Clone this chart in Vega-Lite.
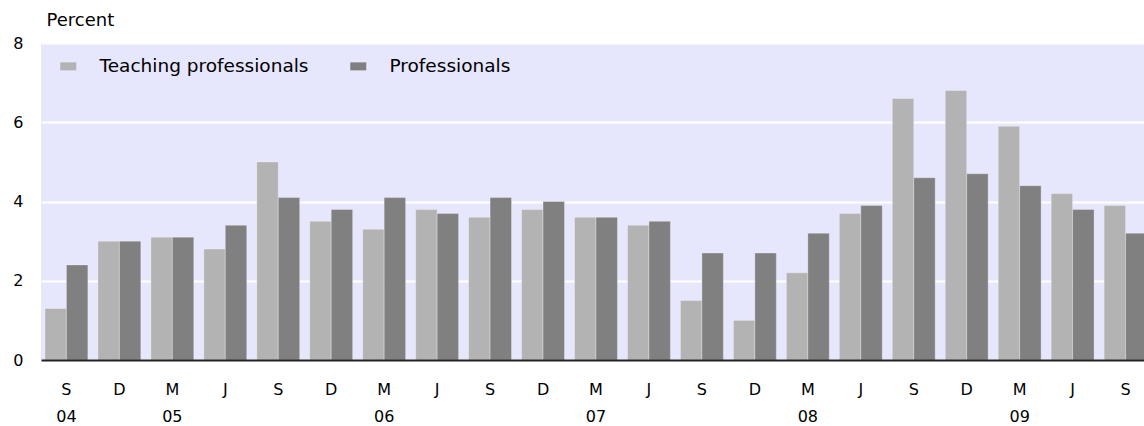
{
  "$schema": "https://vega.github.io/schema/vega-lite/v6.json",
  "width": 1103,
  "height": 317,
  "autosize": {"type": "none"},
  "padding": {"left": 41, "top": 43, "right": 0, "bottom": 66},
  "background": "#ffffff",
  "config": {
    "view": {"fill": "#E6E6FC", "stroke": null},
    "font": "DejaVu Sans",
    "axis": {"labelFont": "DejaVu Sans", "titleFont": "DejaVu Sans", "labelColor": "#000000", "titleColor": "#000000"}
  },
  "data": {
    "values": [
      {"quarter": "S04", "series": "Teaching professionals", "value": 1.3},
      {"quarter": "S04", "series": "Professionals", "value": 2.4},
      {"quarter": "D04", "series": "Teaching professionals", "value": 3.0},
      {"quarter": "D04", "series": "Professionals", "value": 3.0},
      {"quarter": "M05", "series": "Teaching professionals", "value": 3.1},
      {"quarter": "M05", "series": "Professionals", "value": 3.1},
      {"quarter": "J05", "series": "Teaching professionals", "value": 2.8},
      {"quarter": "J05", "series": "Professionals", "value": 3.4},
      {"quarter": "S05", "series": "Teaching professionals", "value": 5.0},
      {"quarter": "S05", "series": "Professionals", "value": 4.1},
      {"quarter": "D05", "series": "Teaching professionals", "value": 3.5},
      {"quarter": "D05", "series": "Professionals", "value": 3.8},
      {"quarter": "M06", "series": "Teaching professionals", "value": 3.3},
      {"quarter": "M06", "series": "Professionals", "value": 4.1},
      {"quarter": "J06", "series": "Teaching professionals", "value": 3.8},
      {"quarter": "J06", "series": "Professionals", "value": 3.7},
      {"quarter": "S06", "series": "Teaching professionals", "value": 3.6},
      {"quarter": "S06", "series": "Professionals", "value": 4.1},
      {"quarter": "D06", "series": "Teaching professionals", "value": 3.8},
      {"quarter": "D06", "series": "Professionals", "value": 4.0},
      {"quarter": "M07", "series": "Teaching professionals", "value": 3.6},
      {"quarter": "M07", "series": "Professionals", "value": 3.6},
      {"quarter": "J07", "series": "Teaching professionals", "value": 3.4},
      {"quarter": "J07", "series": "Professionals", "value": 3.5},
      {"quarter": "S07", "series": "Teaching professionals", "value": 1.5},
      {"quarter": "S07", "series": "Professionals", "value": 2.7},
      {"quarter": "D07", "series": "Teaching professionals", "value": 1.0},
      {"quarter": "D07", "series": "Professionals", "value": 2.7},
      {"quarter": "M08", "series": "Teaching professionals", "value": 2.2},
      {"quarter": "M08", "series": "Professionals", "value": 3.2},
      {"quarter": "J08", "series": "Teaching professionals", "value": 3.7},
      {"quarter": "J08", "series": "Professionals", "value": 3.9},
      {"quarter": "S08", "series": "Teaching professionals", "value": 6.6},
      {"quarter": "S08", "series": "Professionals", "value": 4.6},
      {"quarter": "D08", "series": "Teaching professionals", "value": 6.8},
      {"quarter": "D08", "series": "Professionals", "value": 4.7},
      {"quarter": "M09", "series": "Teaching professionals", "value": 5.9},
      {"quarter": "M09", "series": "Professionals", "value": 4.4},
      {"quarter": "J09", "series": "Teaching professionals", "value": 4.2},
      {"quarter": "J09", "series": "Professionals", "value": 3.8},
      {"quarter": "S09", "series": "Teaching professionals", "value": 3.9},
      {"quarter": "S09", "series": "Professionals", "value": 3.2}
    ]
  },
  "mark": {"type": "bar", "stroke": "#ffffff", "strokeOpacity": 0.3, "strokeWidth": 1},
  "encoding": {
    "x": {
      "field": "quarter",
      "type": "nominal",
      "sort": null,
      "scale": {"range": [0, 1110], "paddingInner": 0.19, "paddingOuter": 0.075},
      "axis": {
        "title": null,
        "labelAngle": 0,
        "ticks": false,
        "domain": true,
        "domainColor": "#222222",
        "domainWidth": 2,
        "zindex": 1,
        "labelPadding": 21,
        "labelFontSize": 16,
        "labelLineHeight": 27,
        "labelBaseline": "top",
        "labelExpr": "(datum.value == 'S04' || substring(datum.value,0,1) == 'M') ? [substring(datum.value,0,1), substring(datum.value,1)] : substring(datum.value,0,1)"
      }
    },
    "xOffset": {
      "field": "series",
      "type": "nominal",
      "sort": ["Teaching professionals", "Professionals"],
      "scale": {"paddingInner": 0, "paddingOuter": 0}
    },
    "y": {
      "field": "value",
      "type": "quantitative",
      "scale": {"domain": [0, 8], "nice": false},
      "axis": {
        "values": [0, 2, 4, 6, 8],
        "title": "Percent",
        "titleAngle": 0,
        "titleAlign": "left",
        "titleBaseline": "alphabetic",
        "titleX": 5,
        "titleY": -18,
        "titleFontSize": 18,
        "titleFontWeight": "normal",
        "ticks": false,
        "domain": false,
        "grid": true,
        "gridColor": "#ffffff",
        "gridWidth": 2,
        "labelFontSize": 16,
        "labelPadding": 18
      }
    },
    "color": {
      "field": "series",
      "type": "nominal",
      "sort": ["Teaching professionals", "Professionals"],
      "scale": {"domain": ["Teaching professionals", "Professionals"], "range": ["#B3B3B3", "#808080"]},
      "legend": {
        "title": null,
        "orient": "none",
        "legendX": 18,
        "legendY": 14,
        "direction": "horizontal",
        "symbolType": "M-1,-0.5H1V0.5H-1Z",
        "symbolSize": 256,
        "symbolStrokeWidth": 0,
        "labelFont": "DejaVu Sans",
        "labelFontSize": 18.5,
        "labelColor": "#000000",
        "labelOffset": 22,
        "columnPadding": 40,
        "labelLimit": 400
      }
    }
  }
}
